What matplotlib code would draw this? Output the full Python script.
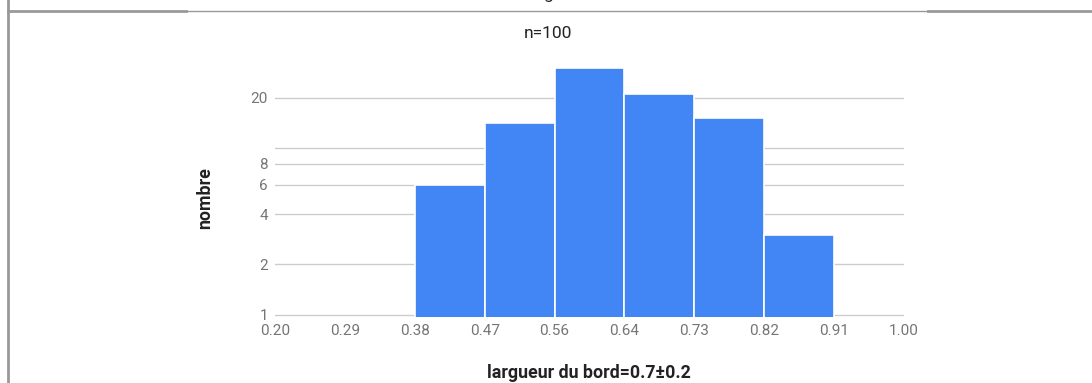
import numpy as np
import matplotlib.pyplot as plt
from matplotlib.lines import Line2D

# histogramme: bords des classes et effectifs
edges = [0.20, 0.2889, 0.3778, 0.4667, 0.5556, 0.6444, 0.7333, 0.8222, 0.9111, 1.00]
counts = [0, 0, 6, 14, 30, 21, 15, 3, 0]
xtick_labels = ['0.20', '0.29', '0.38', '0.47', '0.56', '0.64', '0.73', '0.82', '0.91', '1.00']
ytick_vals = [1, 2, 4, 6, 8, 10, 20]
ytick_labels = ['1', '2', '4', '6', '8', '', '20']

plt.rcParams['font.family'] = ['Roboto', 'DejaVu Sans']

fig = plt.figure(figsize=(10.92, 3.83), dpi=100)
W, H = 1092, 383

# position de l'axe en pixels (echelle log: ~166.7 px par decade, y=1 a 314.5)
lo, hi = 0.97, 40
ppd = 166.7
y_bot = 314.5 + ppd * np.log10(1 / lo)
y_top = 314.5 - ppd * np.log10(hi)
ax = fig.add_axes([275 / W, (H - y_bot) / H, 629 / W, (y_bot - y_top) / H])

widths = np.diff(edges)
ax.bar(edges[:-1], counts, width=widths, align='edge', bottom=1e-4,
       color='#4285F4', edgecolor='white', linewidth=1.2, zorder=3)

ax.set_yscale('log')
ax.set_ylim(lo, hi)
ax.set_xlim(edges[0], edges[-1])
ax.set_yticks(ytick_vals)
ax.set_yticklabels(ytick_labels)
ax.yaxis.set_minor_locator(plt.NullLocator())
ax.set_xticks(edges)
ax.set_xticklabels(xtick_labels)
ax.tick_params(axis='both', length=0, labelsize=11, colors='#757575')
ax.tick_params(axis='y', pad=5)
ax.tick_params(axis='x', pad=5)
ax.grid(axis='y', color='#cccccc', linewidth=1, zorder=0)
for s in ax.spines.values():
    s.set_visible(False)

fig.text(548 / W, 1 - 33 / H, 'n=100', ha='center', va='center', fontsize=12.5, color='#222222')
fig.text(589 / W, 1 - 373 / H, 'largueur du bord=0.7±0.2', ha='center', va='center',
         fontsize=12.8, fontweight='bold', color='#222222')
fig.text(205 / W, 1 - 198 / H, 'nombre', ha='center', va='center', rotation=90,
         fontsize=12.8, fontweight='bold', color='#222222')
# bout de titre coupé en haut
fig.text(548 / W, 1 + 1 / H, 'g', ha='center', va='baseline', fontsize=12.5, color='#222222')

# cadre gris
grey = '#999999'
fig.add_artist(Line2D([7.5 / W, 7.5 / W], [0, 1], color=grey, linewidth=2, transform=fig.transFigure))
fig.add_artist(Line2D([7.5 / W, 186 / W], [1 - 11 / H, 1 - 11 / H], color=grey, linewidth=2, transform=fig.transFigure))
fig.add_artist(Line2D([186 / W, 928 / W], [1 - 10.5 / H, 1 - 10.5 / H], color=grey, linewidth=1, transform=fig.transFigure))
fig.add_artist(Line2D([928 / W, 1], [1 - 11 / H, 1 - 11 / H], color=grey, linewidth=2, transform=fig.transFigure))

fig.savefig('out.png', dpi=100)
